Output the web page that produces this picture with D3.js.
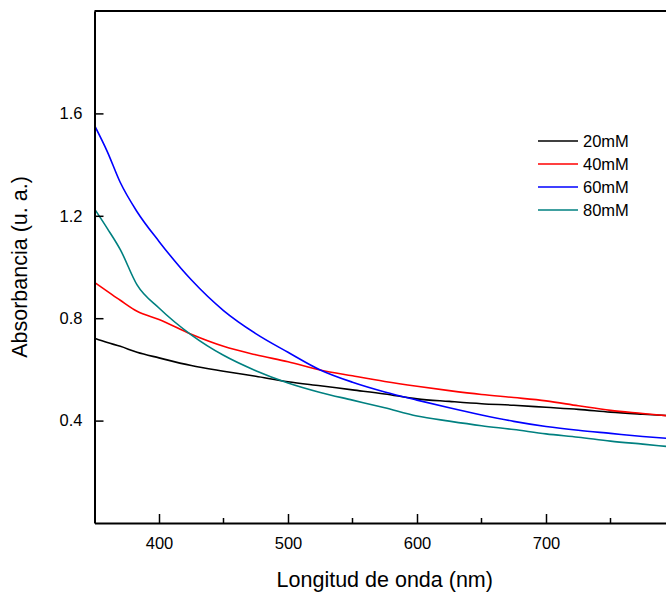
<!DOCTYPE html>
<html>
<head>
<meta charset="utf-8">
<script src="https://cdn.jsdelivr.net/npm/d3@7"></script>
<style>
  body { margin: 0; background: #fff; }
  svg { display: block; font-family: "Liberation Sans", Arial, sans-serif; }
</style>
</head>
<body>
<svg id="chart"></svg>
<script>
const WIDTH = 666;
const HEIGHT = 592;

// wavelengths (nm) shared by all series
const wavelengths = [350, 360, 370, 383, 400, 425, 450, 475, 500, 525, 550, 575, 600, 625, 650, 675, 700, 725, 750, 775, 800];

const abs20 = [0.722, 0.705, 0.69, 0.667, 0.645, 0.615, 0.593, 0.573, 0.552, 0.536, 0.52, 0.504, 0.485, 0.475, 0.466, 0.46, 0.452, 0.444, 0.433, 0.425, 0.418];
const abs40 = [0.94, 0.905, 0.87, 0.827, 0.795, 0.737, 0.69, 0.657, 0.63, 0.598, 0.575, 0.553, 0.534, 0.517, 0.502, 0.49, 0.477, 0.458, 0.44, 0.428, 0.416];
const abs60 = [1.553, 1.45, 1.33, 1.216, 1.1, 0.95, 0.83, 0.74, 0.667, 0.598, 0.55, 0.512, 0.48, 0.45, 0.422, 0.397, 0.377, 0.362, 0.35, 0.338, 0.328];
const abs80 = [1.227, 1.15, 1.068, 0.93, 0.84, 0.735, 0.655, 0.595, 0.547, 0.51, 0.48, 0.45, 0.418, 0.398, 0.38, 0.365, 0.348, 0.335, 0.32, 0.308, 0.296];

const seriesNames = ["20mM", "40mM", "60mM", "80mM"];
const seriesColors = ["#000000", "#ff0000", "#0000ff", "#008080"];
const seriesValues = [abs20, abs40, abs60, abs80];

const xMajorTicks = [400, 500, 600, 700];
const xMinorTicks = [450, 550, 650, 750];
const yTicks = [0.4, 0.8, 1.2, 1.6];

const X_MIN = 350, X_MAX = 800;
const Y_MIN = 0, Y_MAX = 2.0;

const LEFT = 94.5, RIGHT = 675, TOP = 11, BOTTOM = 523;

const svg = d3.select("#chart").attr("width", WIDTH).attr("height", HEIGHT);

const xScale = d3.scaleLinear([X_MIN, X_MAX], [LEFT, RIGHT]);
const yScale = d3.scaleLinear([Y_MIN, Y_MAX], [BOTTOM, TOP]);

svg.append("clipPath").attr("id", "plot-clip")
	.append("rect")
	.attr("x", LEFT).attr("y", TOP)
	.attr("width", RIGHT - LEFT).attr("height", BOTTOM - TOP);

// curves
const line = d3.line()
	.x((d, i) => xScale(wavelengths[i]))
	.y(d => yScale(d))
	.curve(d3.curveMonotoneX);

svg.append("g").attr("clip-path", "url(#plot-clip)")
	.selectAll("path")
	.data(seriesValues)
	.join("path")
	.attr("fill", "none")
	.attr("stroke", (d, i) => seriesColors[i])
	.attr("stroke-width", 1.6)
	.attr("d", line);

// x axis (ticks point inward)
const xAxis = svg.append("g").attr("transform", `translate(0,${BOTTOM})`)
	.call(d3.axisBottom(xScale).tickValues(xMajorTicks).tickSizeInner(-9).tickSizeOuter(0).tickPadding(14).tickFormat(d3.format("d")));
xAxis.select(".domain").attr("stroke-width", 2);
xAxis.selectAll(".tick line").attr("stroke-width", 1.5);
xAxis.selectAll(".tick text").attr("font-size", 16.5).attr("fill", "#000").attr("font-family", "Liberation Sans, Arial, sans-serif");

svg.append("g")
	.selectAll("line")
	.data(xMinorTicks)
	.join("line")
	.attr("x1", d => xScale(d)).attr("x2", d => xScale(d))
	.attr("y1", BOTTOM).attr("y2", BOTTOM - 5)
	.attr("stroke", "#000").attr("stroke-width", 1.5);

// y axis
const yAxis = svg.append("g").attr("transform", `translate(${LEFT},0)`)
	.call(d3.axisLeft(yScale).tickValues(yTicks).tickSizeInner(-9).tickSizeOuter(0).tickPadding(12).tickFormat(d3.format(".1f")));
yAxis.select(".domain").attr("stroke-width", 2);
yAxis.selectAll(".tick line").attr("stroke-width", 1.5);
yAxis.selectAll(".tick text").attr("font-size", 16.5).attr("fill", "#000").attr("font-family", "Liberation Sans, Arial, sans-serif");

// top and right frame
svg.append("line")
	.attr("x1", LEFT).attr("x2", RIGHT)
	.attr("y1", TOP).attr("y2", TOP)
	.attr("stroke", "#000").attr("stroke-width", 2);
svg.append("line")
	.attr("x1", RIGHT).attr("x2", RIGHT)
	.attr("y1", TOP).attr("y2", BOTTOM)
	.attr("stroke", "#000").attr("stroke-width", 2);

// axis titles
svg.append("text")
	.attr("x", (LEFT + RIGHT) / 2)
	.attr("y", 587)
	.attr("text-anchor", "middle")
	.attr("font-size", 21.5)
	.text("Longitud de onda (nm)");

svg.append("text")
	.attr("transform", `translate(27,${(TOP + BOTTOM) / 2}) rotate(-90)`)
	.attr("text-anchor", "middle")
	.attr("font-size", 21.5)
	.text("Absorbancia (u. a.)");

// legend
const legend = svg.append("g")
	.selectAll("g")
	.data(seriesNames)
	.join("g")
	.attr("transform", (d, i) => `translate(538,${141 + i * 23})`);

legend.append("line")
	.attr("x1", 0).attr("x2", 40)
	.attr("stroke", (d, i) => seriesColors[i])
	.attr("stroke-width", 1.6);

legend.append("text")
	.attr("x", 45)
	.attr("dy", "0.35em")
	.attr("font-size", 16.5)
	.text(d => d);
</script>
</body>
</html>
